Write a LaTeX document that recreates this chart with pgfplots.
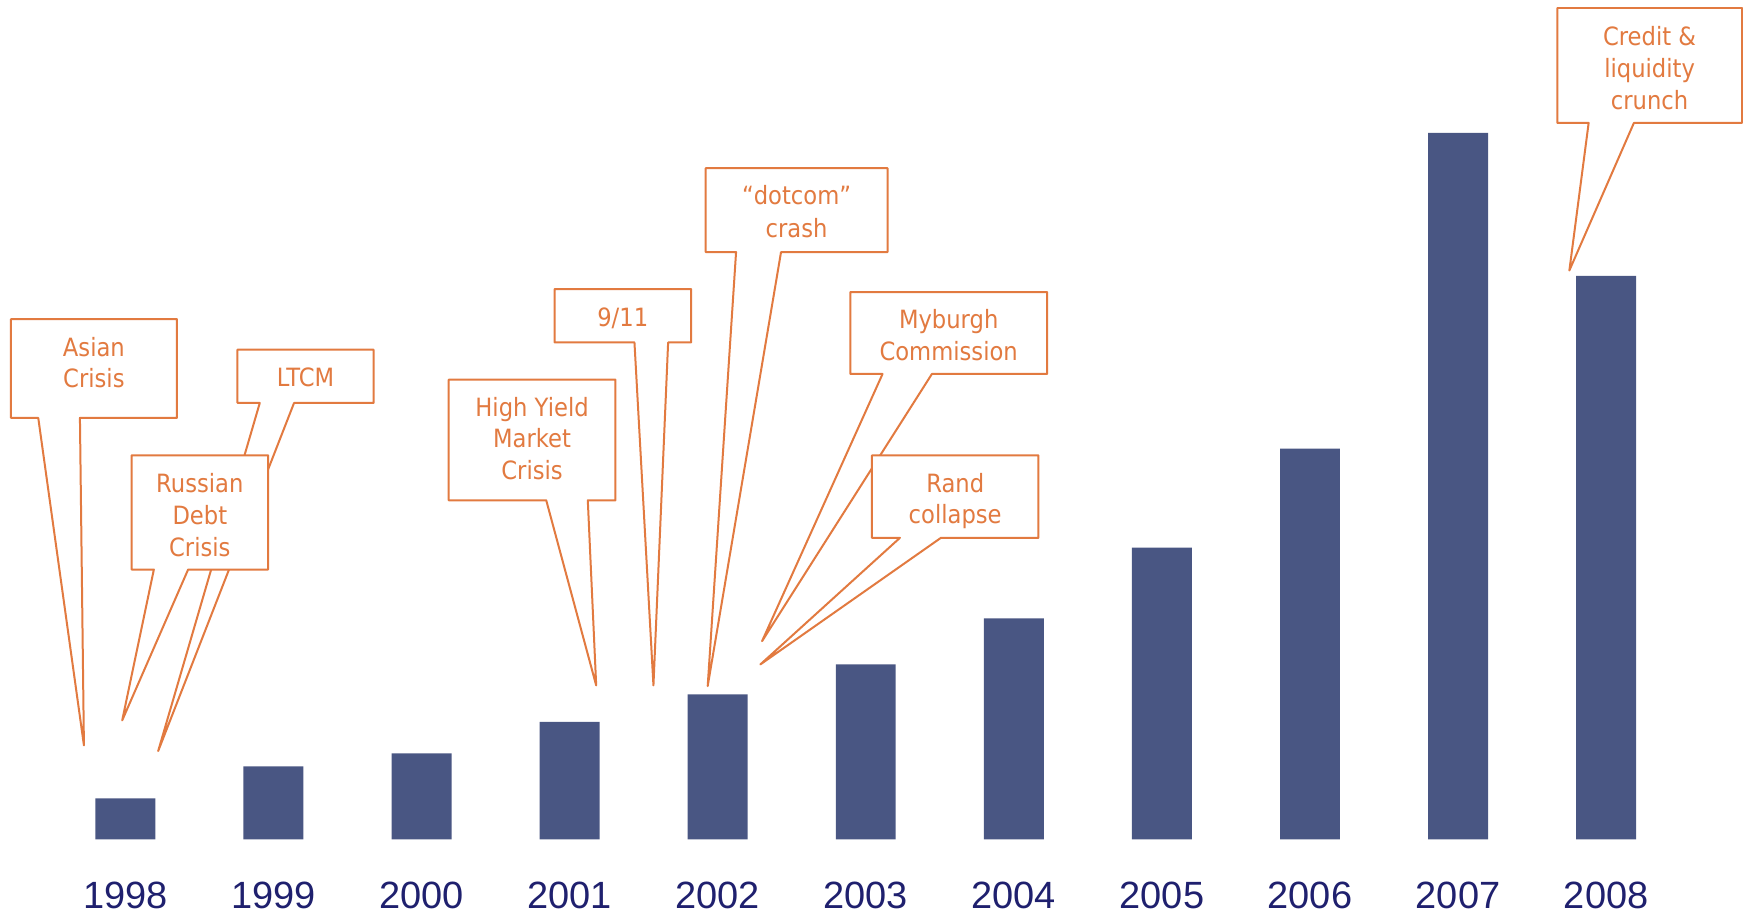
\documentclass[border=0pt]{standalone}
\usepackage{pgfplots}
\pgfplotsset{compat=1.18}
\usepackage{fontspec}
\setmainfont{Liberation Sans}
\newfontfamily\callfont[FakeStretch=0.9]{DejaVu Sans}
\definecolor{barcol}{RGB}{73,86,131}
\definecolor{yearcol}{RGB}{31,32,110}
\definecolor{callcol}{RGB}{226,122,64}
\begin{document}
\begin{tikzpicture}
\begin{scope}[x=0.5pt,y=-0.5pt]
\path[use as bounding box] (0,0) rectangle (1743,915);
\end{scope}
\begin{axis}[
  at={(25.7pt,-420pt)}, anchor=south west,
  scale only axis, width=815.1pt, height=360pt,
  xmin=-0.5, xmax=10.5, ymin=0, ymax=720,
  ybar, bar width=30pt, bar shift=0pt,
  xtick=data,
  xticklabels={1998,1999,2000,2001,2002,2003,2004,2005,2006,2007,2008},
  ytick=\empty,
  axis line style={draw=none},
  major tick length=0pt,
  xticklabel style={anchor=base, yshift=-34.5pt, font=\fontsize{19}{19}\selectfont, text=yearcol},
  clip=false]
\addplot[fill=barcol, draw=none] coordinates {
(0,41) (1,73) (2,86) (3,117.5) (4,145) (5,175) (6,221) (7,292) (8,391) (9,707) (10,564)};
\end{axis}
\begin{scope}[x=0.5pt,y=-0.5pt,
  every node/.style={text=callcol, font=\callfont\fontsize{12.6}{16}\selectfont, anchor=base, inner sep=0pt},
  co/.style={draw=callcol, line width=1pt, fill=white, line join=round}]
% Asian Crisis
\draw[co] (11,319.3) -- (177,319.3) -- (177,418.3) -- (80,418.3) -- (84,746) -- (38.3,418.3) -- (11,418.3) -- cycle;
\node at (94,356.7) {Asian};
\node at (94,388.3) {Crisis};
% LTCM
\draw[co] (237.7,350) -- (374,350) -- (374,403.3) -- (294.3,403.3) -- (158.3,751.7) -- (260,403.3) -- (237.7,403.3) -- cycle;
\node at (305.8,387.3) {LTCM};
% Russian Debt Crisis
\draw[co] (131.7,455.7) -- (268.3,455.7) -- (268.3,570) -- (188.3,570) -- (122.3,721) -- (154,570) -- (131.7,570) -- cycle;
\node at (200,492.7) {Russian};
\node at (200,525) {Debt};
\node at (200,556.7) {Crisis};
% High Yield Market Crisis
\draw[co] (449,380) -- (616,380) -- (616,500.7) -- (588.3,500.7) -- (596.7,686) -- (546.7,500.7) -- (449,500.7) -- cycle;
\node at (532.5,416.7) {High Yield};
\node at (532.5,448.3) {Market};
\node at (532.5,480) {Crisis};
% 9/11
\draw[co] (555,289.3) -- (691.7,289.3) -- (691.7,342.7) -- (668.7,342.7) -- (654,686) -- (635,342.7) -- (555,342.7) -- cycle;
\node at (623.3,326.7) {9/11};
% dotcom crash
\draw[co] (706.3,168.3) -- (888.3,168.3) -- (888.3,252.3) -- (781.7,252.3) -- (708.3,686.7) -- (736.7,252.3) -- (706.3,252.3) -- cycle;
\node at (797.3,205) {“dotcom”};
\node at (797.3,237.3) {crash};
% Myburgh Commission
\draw[co] (851,292.3) -- (1048,292.3) -- (1048,374.3) -- (932.7,374.3) -- (762.7,641.7) -- (883.3,374.3) -- (851,374.3) -- cycle;
\node at (949.5,328.3) {Myburgh};
\node at (949.5,360.7) {Commission};
% Rand collapse
\draw[co] (872.7,455.7) -- (1039.3,455.7) -- (1039.3,538.3) -- (941.7,538.3) -- (761,665) -- (900.7,538.3) -- (872.7,538.3) -- cycle;
\node at (956,492.7) {Rand};
\node at (956,524.3) {collapse};
% Credit & liquidity crunch
\draw[co] (1558.7,8) -- (1743.5,8) -- (1743.5,123) -- (1635.3,123) -- (1570.7,270.7) -- (1590,123) -- (1558.7,123) -- cycle;
\node at (1651,45.7) {Credit \&};
\node at (1651,77.5) {liquidity};
\node at (1651,109.7) {crunch};
\end{scope}
\end{tikzpicture}
\end{document}
